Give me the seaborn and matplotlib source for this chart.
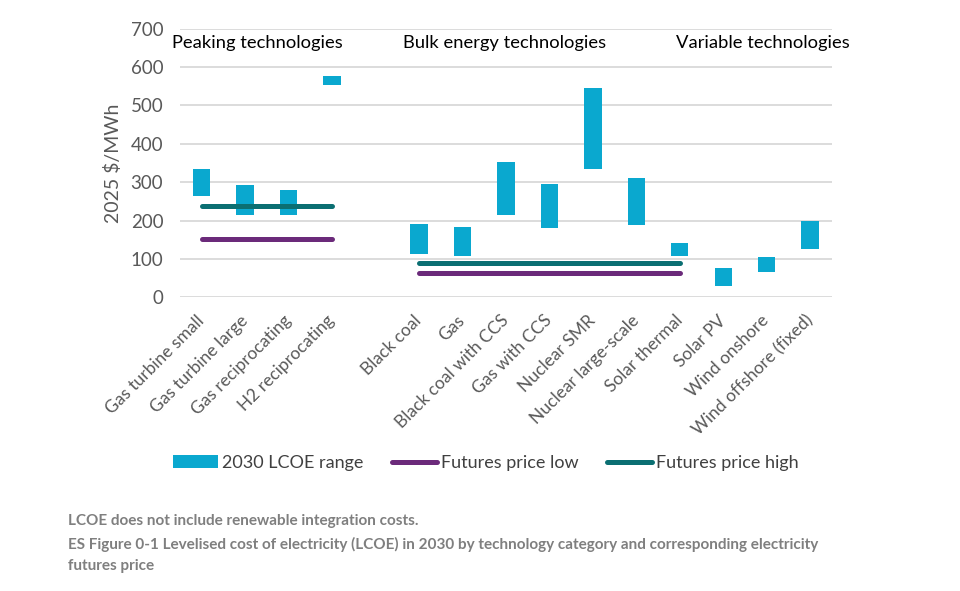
import matplotlib
matplotlib.use("Agg")
import matplotlib.pyplot as plt
import seaborn as sns
import pandas as pd
from matplotlib.patches import Patch
from matplotlib.lines import Line2D

# ==========================================
# Data
# ==========================================
technologies = ["Gas turbine small", "Gas turbine large", "Gas reciprocating", "H2 reciprocating",
                "Black coal", "Gas", "Black coal with CCS", "Gas with CCS", "Nuclear SMR",
                "Nuclear large-scale", "Solar thermal", "Solar PV", "Wind onshore",
                "Wind offshore (fixed)"]
lcoe_low = [265, 215, 215, 553, 113, 108, 215, 180, 335, 188, 108, 30, 65, 125]
lcoe_high = [335, 292, 280, 576, 190, 182, 352, 295, 545, 310, 141, 75, 105, 198]

# empty slot between the peaking and bulk groups
order = technologies[:4] + [" "] + technologies[4:]

futures_group = ["Peaking", "Bulk"]
futures_start = ["Gas turbine small", "Black coal"]
futures_end = ["H2 reciprocating", "Solar thermal"]
futures_low = [153, 62]
futures_high = [237, 88]

group_labels = ["Peaking technologies", "Bulk energy technologies", "Variable technologies"]

notes = ["LCOE does not include renewable integration costs.",
         "ES Figure 0-1 Levelised cost of electricity (LCOE) in 2030 by technology category "
         "and corresponding electricity",
         "futures price"]

bar_color = "#0AA8CF"
low_color = "#6B2A7A"
high_color = "#0B6F72"
grey = "#595959"

bars = pd.DataFrame({"tech": technologies, "low": lcoe_low, "high": lcoe_high})
bars["range"] = bars["high"] - bars["low"]

rows = []
for g, s, e, lo, hi in zip(futures_group, futures_start, futures_end, futures_low, futures_high):
    for t in (s, e):
        rows.append({"group": g, "pos": order.index(t), "series": "Futures price low", "price": lo})
        rows.append({"group": g, "pos": order.index(t), "series": "Futures price high", "price": hi})
lines = pd.DataFrame(rows)

# ==========================================
# Plot
# ==========================================
sns.set_theme(style="white")
plt.rcParams["font.family"] = ["Lato", "DejaVu Sans"]

fig = plt.figure(figsize=(9.6, 5.91), dpi=100)
ax = fig.add_axes([0.1875, 0.497, 0.679, 0.4546])

ax.grid(axis="y", color="#d9d9d9", linewidth=1.3, zorder=0)
ax.set_axisbelow(True)

sns.barplot(data=bars, x="tech", y="range", order=order, bottom=bars["low"].values,
            color=bar_color, saturation=1, width=0.4, linewidth=0, errorbar=None,
            ax=ax, zorder=3)

sns.lineplot(data=lines, x="pos", y="price", hue="series", units="group", estimator=None,
             palette={"Futures price low": low_color, "Futures price high": high_color},
             linewidth=3.6, solid_capstyle="round", legend=False, ax=ax, zorder=4)

ax.set_xlim(-0.5, len(order) - 0.5)
ax.set_ylim(0, 700)
ax.set_yticks(range(0, 701, 100))
ax.set_xticks(range(len(order)))
ax.set_xticklabels(order, rotation=45, ha="right", va="center", rotation_mode="anchor",
                   fontsize=12.5, color=grey)
ax.tick_params(axis="x", length=0, pad=15)
ax.tick_params(axis="y", length=0, pad=12, labelsize=13.5, labelcolor=grey)
ax.set_xlabel("")
ax.set_ylabel("2025 $/MWh", fontsize=14, color=grey, labelpad=6)
for sp in ax.spines.values():
    sp.set_visible(False)

for label, xpos in zip(group_labels, [1.29, 6.98, 12.91]):
    ax.text(xpos, 662, label, ha="center", va="center", fontsize=13.2, color="black")

handles = [Patch(facecolor=bar_color, edgecolor="none"),
           Line2D([], [], color=low_color, linewidth=3.6, solid_capstyle="round"),
           Line2D([], [], color=high_color, linewidth=3.6, solid_capstyle="round")]
fig.legend(handles, ["2030 LCOE range", "Futures price low", "Futures price high"],
           loc="center", bbox_to_anchor=(0.506, 0.2166), ncol=3, frameon=False,
           fontsize=13, handlelength=2.5, handleheight=0.7, handletextpad=0.2,
           columnspacing=1.6, labelcolor="#404040")

for txt, ypix in zip(notes, [521, 544, 566]):
    fig.text(0.071, 1 - ypix / 591, txt, fontsize=11, fontweight="bold", color="#7f7f7f",
             va="center")

fig.savefig("out.png", dpi=100)
